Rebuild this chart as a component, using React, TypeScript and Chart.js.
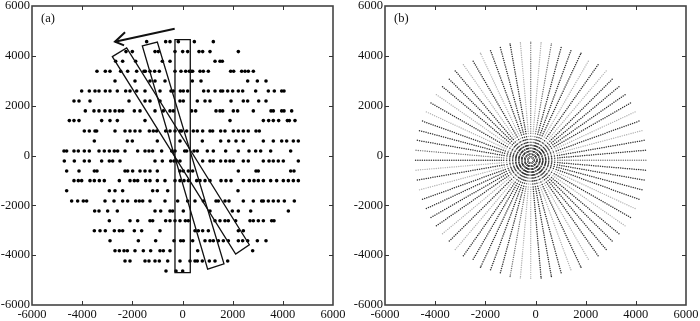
import React, { useEffect, useRef } from "react";
import { Chart, registerables } from "chart.js";

Chart.register(...registerables);

// Panel (a): dots, one list of x values per row.
const rowYs = [4570, 4170, 3780, 3380, 2990, 2590, 2190, 1790, 1400, 985, 582, 180, -221, -622, -1010, -1413, -1827, -2229, -2618, -3020, -3420, -3823, -4237, -4638];
const row4570 = [-1429, -671, -498, -166, 472, 1229];
const row4170 = [-2253, -2000, -1096, -964, -299, 7, 206, 658, 804, 1096, 2226];
const row3780 = [-2665, -2386, -1867, -804, -498, 1296, 1495, 1588];
const row3380 = [-3409, -3077, -2891, -2465, -2186, -1827, -1535, -1482, -1296, -1110, -924, -299, -60, 126, 272, 339, 405, 698, 831, 1030, 1920, 2040, 2359, 2492, 2625, 2824];
const row2990 = [-2691, -1894, -1296, -1096, -698, 392, 738, 2598, 2984, 3329];
const row2590 = [-4020, -3715, -3489, -3329, -3077, -2891, -2598, -2266, -2093, -1827, -1495, -897, -458, -365, -86, 33, 206, 844, 1030, 1296, 1522, 1601, 1801, 2000, 2226, 2399, 2917, 3422, 3661, 3954, 4047];
const row2190 = [-4326, -4126, -3688, -2133, -1495, -1296, -897, -100, 33, 591, 897, 1096, 1934, 2425, 2598, 3037, 3329];
const row1790 = [-3874, -3529, -3329, -3090, -2891, -2691, -2518, -2386, -1920, -1694, -1096, -764, -498, -365, 365, 525, 1336, 1495, 1601, 2027, 2199, 2824, 3528, 3621, 3954, 4047, 4352];
const row1400 = [-4512, -4326, -4126, -3223, -2891, -2598, -1495, 1894, 3223, 3435, 3621, 3834, 4180, 4259, 4485];
const row985 = [-3914, -3715, -3489, -3422, -2691, -2293, -2093, -1894, -1695, -1323, -1163, -1030, -671, -498, -299, -100, -34, 166, 431, 591, 804, 1096, 1202, 1521, 1694, 2026, 2226, 2425, 2624, 2930, 3063];
const row582 = [-3515, -2200, -2000, -1003, -100, 791, 1522, 1841, 2133, 2425, 3223, 3621, 3954, 4153, 4419, 4618];
const row180 = [-4725, -4619, -4326, -4153, -3914, -3715, -3329, -3117, -2917, -2718, -2585, -2293, -1788, -1495, -1336, -1190, -831, -432, -299, 86, 166, 458, 591, 990, 1229, 1721, 2226, 2651, 2917, 3116, 3515, 4312];
const rowM221 = [-4712, -4313, -3914, -3715, -3223, -2917, -2785, -2492, -1097, -804, -472, -339, -233, -100, 804, 1096, 1229, 1521, 1721, 1893, 2026, 2425, 2624, 3222, 3449, 3621, 3820, 4020, 4618];
const rowM622 = [-4618, -4126, -3515, -3409, -2292, -2186, -1987, -1694, -1495, -1296, -1003, -100, 33, 232, 405, 2226, 2930, 3023, 4312, 4445];
const rowM1010 = [-4326, -4153, -4020, -3688, -3515, -3316, -3117, -2518, -2093, -1920, -1787, -1469, -1296, -1003, -698, -299, -100, 60, 233, 565, 698, 897, 1096, 1535, 1734, 1934, 2425, 2665, 2851, 3023, 3223, 3515, 3754, 4020, 4220, 4419, 4618];
const rowM1413 = [-4618, -2917, -2691, -2386, -1190, -1003, -591, 2213];
const rowM1827 = [-4419, -4180, -3954, -3821, -3090, -2731, -2386, -2186, -1867, -1721, -1588, -1296, -698, -193, 206, 498, 831, 1336, 1429, 1694, 1854, 2425, 2824, 3156, 3223, 3422, 3621, 3821, 4060, 4458];
const rowM2229 = [-3502, -3329, -2984, -2598, -1096, -870, -498, -392, 33, 1096, 1987, 2226, 2718, 4220];
const rowM2618 = [-2917, -2093, -1787, -1296, -1189, -671, -498, -299, -100, 113, 233, 1296, 1495, 1694, 1827, 2120, 2691, 2824, 3023, 3223, 3555, 3648];
const rowM3020 = [-3515, -3289, -3077, -2718, -2518, -2386, -1920, -1628, -897, 498, 631, 804, 1030, 2226, 2425];
const rowM3420 = [-2890, -1761, -1070, -339, -73, 33, 405, 897, 1096, 1229, 1429, 1628, 1827, 2226, 2399, 2598, 2984, 3329];
const rowM3823 = [-2691, -2518, -2332, -2199, -1894, -1562, -1269, -897, -764, -498, 605, 2797];
const rowM4237 = [-2292, -2093, -1495, -1336, -1096, -924, -591, -100, 299, 498, 591, 791, 1070, 1296, 1801];
const rowM4638 = [-658, -259, 7];
const rowXs = [row4570, row4170, row3780, row3380, row2990, row2590, row2190, row1790, row1400, row985, row582, row180, rowM221, rowM622, rowM1010, rowM1413, rowM1827, rowM2229, rowM2618, rowM3020, rowM3420, rowM3823, rowM4237, rowM4638];

// Panel (a) annotations, in data units.
const stripA = [[-300, 4650], [310, 4650], [310, -4700], [-300, -4700]];
const stripB = [[-1601, 4395], [-1003, 4555], [1654, -4345], [1003, -4558]];
const stripC = [[-2797, 3967], [-2226, 4315], [2664, -3582], [2119, -3956]];
const arrowShaft = [[-312, 5091], [-2691, 4569]];
const arrowWings = [[-2290, 4950], [-2691, 4569], [-2330, 4420]];

// Panel (b): a polar grid of samples.
const gridCentre = [-190, -190];
const spokeAngles = [0, 5, 10, 15, 20, 25, 30, 35, 40, 45, 50, 55, 60, 65, 70, 75, 80, 85, 90, 95, 100, 105, 110, 115, 120, 125, 130, 135, 140, 145, 150, 155, 160, 165, 170, 175, 180, 185, 190, 195, 200, 205, 210, 215, 220, 225, 230, 235, 240, 245, 250, 255, 260, 265, 270, 275, 280, 285, 290, 295, 300, 305, 310, 315, 320, 325, 330, 335, 340, 345, 350, 355];
const spokeLengths = [4610, 4604, 4605, 4619, 4642, 4636, 4662, 4666, 4660, 4677, 4693, 4688, 4678, 4743, 4724, 4726, 4748, 4752, 4750, 4752, 4748, 4726, 4724, 4743, 4678, 4688, 4693, 4677, 4660, 4666, 4662, 4636, 4642, 4619, 4605, 4604, 4620, 4604, 4605, 4619, 4642, 4636, 4662, 4666, 4660, 4677, 4693, 4688, 4678, 4743, 4724, 4726, 4748, 4752, 4750, 4752, 4748, 4726, 4724, 4743, 4678, 4688, 4693, 4677, 4660, 4666, 4662, 4636, 4642, 4619, 4605, 4604];
// d = dark, m = medium, l = light
const spokeShades = "mddldlddddldldddmlmldddldldddldldddmdldldddd" + "ldldddddmlldddldlddddldldddd";
const ringRadii = [120, 240, 360, 480, 600, 720, 840, 960, 1080, 1170, 1260, 1350, 1440, 1530, 1620, 1710, 1800, 1890, 1980, 2070, 2160, 2250, 2340, 2430, 2520, 2610, 2700, 2790, 2880, 2970, 3060, 3150, 3240, 3330, 3420, 3510, 3600, 3690, 3780, 3870, 3960, 4050, 4140, 4230, 4320, 4410, 4500, 4590, 4680, 4740];
// The rings near the centre read as closed circles, so they also get samples between spokes.
const innerRings = [120, 240, 360, 480, 600];
const fadingRings = [720, 840];

const tickValues = [-6000, -4000, -2000, 0, 2000, 4000, 6000];
const INK = "#111111";
const FONT = '"Liberation Serif", serif';

const dotsA = rowXs.flatMap((xs, i) => xs.map((x) => ({ x, y: rowYs[i] })));

const polar = (r: number, deg: number) => {
  const a = (deg * Math.PI) / 180;
  return { x: gridCentre[0] + r * Math.cos(a), y: gridCentre[1] + r * Math.sin(a) };
};

function spokePoints(shade: string) {
  const out: { x: number; y: number }[] = [];
  spokeAngles.forEach((deg, i) => {
    if ((spokeShades[i] || "d") !== shade) return;
    ringRadii.filter((r) => r <= spokeLengths[i]).forEach((r) => out.push(polar(r, deg)));
  });
  return out;
}

const ringPoints = (radii: number[]) => radii.flatMap((r) => spokeAngles.map((deg) => polar(r, deg + 2.5)));

function frameAndMarks(label: string, withStrips: boolean) {
  return {
    id: "frameAndMarks",
    afterDatasetsDraw(chart: any) {
      const { ctx, chartArea: ca, scales } = chart;
      const X = (v: number) => scales.x.getPixelForValue(v);
      const Y = (v: number) => scales.y.getPixelForValue(v);
      ctx.save();
      ctx.strokeStyle = "#444444";
      ctx.lineWidth = 1.6;
      ctx.strokeRect(ca.left, ca.top, ca.right - ca.left, ca.bottom - ca.top);
      ctx.lineWidth = 1;
      ctx.strokeStyle = "#333333";
      ctx.beginPath();
      tickValues.slice(1, -1).forEach((t) => {
        const px = Math.round(X(t)) + 0.5;
        const py = Math.round(Y(t)) + 0.5;
        ctx.moveTo(px, ca.bottom); ctx.lineTo(px, ca.bottom - 4);
        ctx.moveTo(px, ca.top); ctx.lineTo(px, ca.top + 4);
        ctx.moveTo(ca.left, py); ctx.lineTo(ca.left + 4, py);
        ctx.moveTo(ca.right, py); ctx.lineTo(ca.right - 4, py);
      });
      ctx.stroke();
      ctx.fillStyle = INK;
      ctx.font = `12.5px ${FONT}`;
      ctx.textBaseline = "middle";
      ctx.textAlign = "left";
      ctx.fillText(label, X(-5640), Y(5480));
      if (withStrips) {
        ctx.strokeStyle = INK;
        ctx.lineWidth = 1.3;
        [stripA, stripB, stripC].forEach((box) => {
          ctx.beginPath();
          box.forEach(([x, y], i) => (i ? ctx.lineTo(X(x), Y(y)) : ctx.moveTo(X(x), Y(y))));
          ctx.closePath();
          ctx.stroke();
        });
        ctx.lineWidth = 2;
        [arrowShaft, arrowWings].forEach((line) => {
          ctx.beginPath();
          line.forEach(([x, y], i) => (i ? ctx.lineTo(X(x), Y(y)) : ctx.moveTo(X(x), Y(y))));
          ctx.stroke();
        });
      }
      ctx.restore();
    },
  };
}

function makeChart(canvas: HTMLCanvasElement, datasets: any[], yWidth: number, rightPad: number, label: string, withStrips: boolean) {
  const axis = (afterFit: (s: any) => void) => ({
    type: "linear" as const,
    min: -6000,
    max: 6000,
    afterFit: (s: any) => {
      afterFit(s);
      s.paddingTop = 0;
      s.paddingBottom = 0;
      s.paddingLeft = 0;
      s.paddingRight = 0;
    },
    border: { display: false },
    grid: { display: false, drawTicks: false },
    afterBuildTicks: (s: any) => { s.ticks = tickValues.map((value) => ({ value })); },
    ticks: {
      padding: 2,
      autoSkip: false,
      maxRotation: 0,
      color: INK,
      font: { family: FONT, size: 12.5 },
      callback: (v: any) => String(v),
    },
  });
  return new Chart(canvas, {
    type: "scatter",
    data: { datasets },
    options: {
      responsive: false,
      animation: false,
      events: [],
      layout: { padding: { top: 6, right: rightPad, left: 0, bottom: 0 } },
      plugins: { legend: { display: false }, tooltip: { enabled: false } },
      scales: {
        x: axis((s) => { s.height = 16; }),
        y: axis((s) => { s.width = yWidth; }),
      },
    },
    plugins: [frameAndMarks(label, withStrips)],
  } as any);
}

export default function App() {
  const leftRef = useRef<HTMLCanvasElement>(null);
  const rightRef = useRef<HTMLCanvasElement>(null);
  useEffect(() => {
    const dot = (data: any[], color: string, radius: number) => ({
      data, backgroundColor: color, borderWidth: 0, pointRadius: radius, showLine: false,
    });
    const a = makeChart(leftRef.current!, [dot(dotsA, "#000000", 1.8)], 32, 17, "(a)", true);
    const b = makeChart(rightRef.current!, [
      dot(spokePoints("l"), "#b0b0b0", 0.7),
      dot(spokePoints("m"), "#707070", 0.7),
      dot(spokePoints("d"), "#303030", 0.75),
      dot(ringPoints(fadingRings), "#808080", 0.6),
      dot(ringPoints(innerRings), "#303030", 0.75),
    ], 35, 14, "(b)", false);
    return () => { a.destroy(); b.destroy(); };
  }, []);
  return (
    <div style={{ position: "absolute", left: 0, top: 0, width: 700, height: 321, background: "#fff", overflow: "hidden" }}>
      <canvas ref={leftRef} width={350} height={321} style={{ position: "absolute", left: 0, top: 0, width: 350, height: 321 }} />
      <canvas ref={rightRef} width={350} height={321} style={{ position: "absolute", left: 350, top: 0, width: 350, height: 321 }} />
    </div>
  );
}
